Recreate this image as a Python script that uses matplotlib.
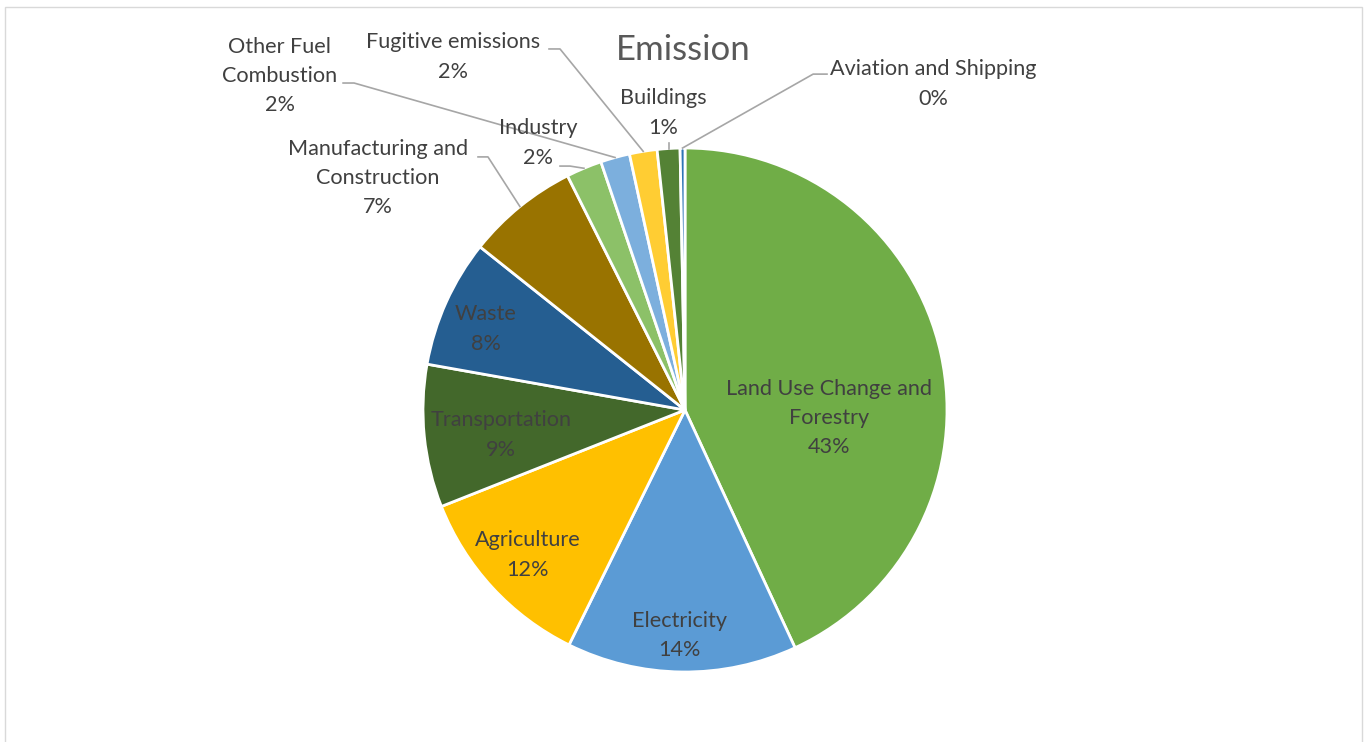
import matplotlib.pyplot as plt
from matplotlib.patches import Rectangle
import numpy as np

plt.rcParams['font.family'] = ['Lato', 'DejaVu Sans']

# sector shares of emissions (%)
sectors = ["Land Use Change and\nForestry", "Electricity", "Agriculture", "Transportation",
           "Waste", "Manufacturing and\nConstruction", "Industry", "Other Fuel\nCombustion",
           "Fugitive emissions", "Buildings", "Aviation and Shipping"]
shares = [43.1, 14.2, 11.7, 8.8, 7.9, 6.9, 2.2, 1.8, 1.7, 1.4, 0.3]
colors = ["#70AD47", "#5B9BD5", "#FFC000", "#43682B", "#255E91", "#997300",
          "#8CC168", "#7CAFDD", "#FFCD33", "#548235", "#2E75B6"]

W, H = 1368, 742
fig = plt.figure(figsize=(W / 100, H / 100), dpi=100)

# chart frame
fig.patches.append(Rectangle((5 / W, -0.01), 1357 / W, 1.01 - 7 / H, transform=fig.transFigure,
                             fill=False, edgecolor="#D9D9D9", linewidth=1))

cx, cy, r = 685, 410, 262
ax = fig.add_axes([(cx - r) / W, (H - cy - r) / H, 2 * r / W, 2 * r / H])

wedges, _ = ax.pie(shares, colors=colors, startangle=90, counterclock=False, radius=1,
                   wedgeprops=dict(edgecolor="white", linewidth=2.0))
ax.set_xlim(-1, 1)
ax.set_ylim(-1, 1)
ax.axis("off")

pct = [f"{round(s):.0f}%" for s in shares]
txt = "#404040"
fs = 15.6
ls = 1.58

# labels inside the wedges: (x, y) in pie units
inside = {0: (0.55, -0.03), 1: (-0.02, -0.862), 2: (-0.60, -0.553),
          3: (-0.702, -0.095), 4: (-0.76, 0.309)}
for i, (x, y) in inside.items():
    ax.text(x, y, f"{sectors[i]}\n{pct[i]}", ha="center", va="center", fontsize=fs,
            color=txt, linespacing=ls)

# labels outside with leader lines: label centre, line end at text, elbow x
outside = {
    5: ((-1.172, 0.885), (-0.790, 0.966), -0.752),
    6: ((-0.561, 1.019), (-0.477, 0.931), -0.439),
    7: ((-1.546, 1.275), (-1.305, 1.248), -1.263),
    8: ((-0.885, 1.347), (-0.519, 1.378), -0.477),
    9: ((-0.084, 1.134), None, None),
    10: ((0.947, 1.244), (0.542, 1.282), 0.489),
}
for i, ((lx, ly), end, ex) in outside.items():
    w = wedges[i]
    mid = np.deg2rad((w.theta1 + w.theta2) / 2)
    px, py = np.cos(mid), np.sin(mid)
    if end is None:
        ax.plot([px, px], [py, 1.019], color="#A6A6A6", lw=1.2, clip_on=False)
    else:
        ax.plot([px, ex, end[0]], [py, end[1], end[1]], color="#A6A6A6", lw=1.2,
                clip_on=False)
    ax.text(lx, ly, f"{sectors[i]}\n{pct[i]}", ha="center", va="center", fontsize=fs,
            color=txt, linespacing=ls)

fig.text(683 / W, 1 - 50 / H, "Emission", ha="center", va="center", fontsize=25,
         color="#595959")

fig.savefig("out.png", dpi=100)
